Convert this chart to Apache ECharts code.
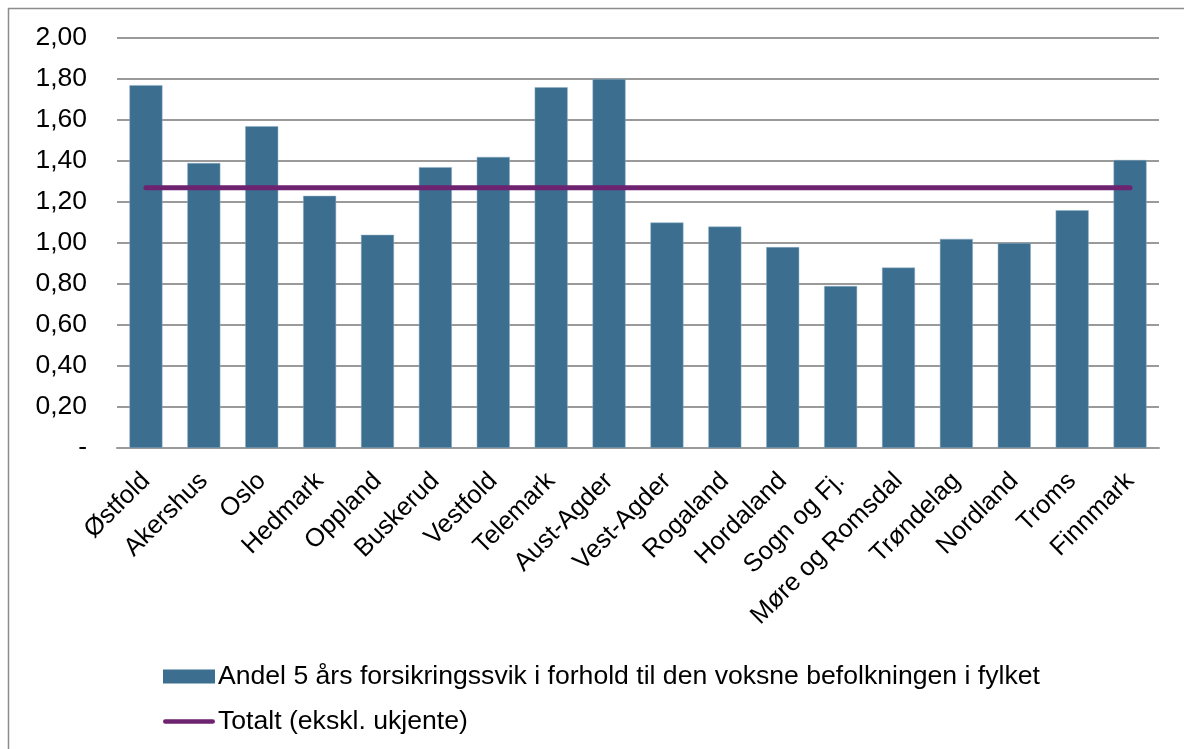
<!DOCTYPE html>
<html>
<head>
<meta charset="utf-8">
<script src="https://cdn.jsdelivr.net/npm/echarts@6/dist/echarts.min.js"></script>
<style>
  html, body { margin: 0; padding: 0; background: #fff; }
  #chart { width: 1184px; height: 749px; }
</style>
</head>
<body>
<div id="chart"></div>
<script>
// fylker
const categories = ['Østfold', 'Akershus', 'Oslo', 'Hedmark', 'Oppland', 'Buskerud', 'Vestfold',
  'Telemark', 'Aust-Agder', 'Vest-Agder', 'Rogaland', 'Hordaland', 'Sogn og Fj.',
  'Møre og Romsdal', 'Trøndelag', 'Nordland', 'Troms', 'Finnmark']

// andel per fylke
const andelValues = [1.77, 1.39, 1.57, 1.23, 1.04, 1.37, 1.42, 1.76, 1.80, 1.10, 1.08, 0.98,
  0.79, 0.88, 1.02, 1.00, 1.16, 1.405]

// totalt (ekskl. ukjente)
const totalValues = [1.27, 1.27, 1.27, 1.27, 1.27, 1.27, 1.27, 1.27, 1.27, 1.27, 1.27, 1.27,
  1.27, 1.27, 1.27, 1.27, 1.27, 1.27]

const barName = 'Andel 5 års forsikringssvik i forhold til den voksne befolkningen i fylket'
const lineName = 'Totalt (ekskl. ukjente)'

const font = '"Liberation Sans", Arial, sans-serif'

const myChart = echarts.init(document.getElementById('chart'))

const option = {
  backgroundColor: '#fff',
  animation: false,
  textStyle: { fontFamily: font },

  // ramme rundt figuren
  graphic: [{
    type: 'rect',
    silent: true,
    shape: { x: 8.5, y: 8.5, width: 1250, height: 800 },
    style: { fill: 'none', stroke: '#8c8c8c', lineWidth: 1.5 }
  }],

  grid: {
    left: 117,
    right: 25,
    top: 38,
    bottom: 301
  },

  legend: {
    orient: 'vertical',
    left: 158,
    top: 658,
    itemWidth: 52,
    itemHeight: 14,
    itemGap: 18,
    itemStyle: { borderWidth: 0 },
    textStyle: { fontSize: 26.6, color: '#000', fontFamily: font, padding: [0, 0, 0, -2] },
    data: [
      { name: barName, icon: 'rect' },
      // tykk strek med runde ender
      { name: lineName, icon: 'path://M2.5,0 H53.5 A2.5,2.5 0 0 1 53.5,5 H2.5 A2.5,2.5 0 0 1 2.5,0 Z' }
    ]
  },

  xAxis: {
    type: 'category',
    data: categories,
    axisLine: { lineStyle: { color: '#9a9a9a', width: 2 } },
    axisTick: { show: false },
    axisLabel: {
      rotate: 45,
      interval: 0,
      margin: 29,
      fontSize: 25.5,
      color: '#000',
      fontFamily: font
    }
  },

  yAxis: {
    type: 'value',
    min: 0,
    max: 2,
    interval: 0.2,
    axisLine: { show: false },
    axisTick: { show: false },
    splitLine: { lineStyle: { color: '#9a9a9a', width: 2 } },
    axisLabel: {
      margin: 30,
      fontSize: 26.5,
      color: '#000',
      fontFamily: font,
      formatter: (v) => v === 0 ? '-' : v.toFixed(2).replace('.', ',')
    }
  },

  series: [
    {
      name: barName,
      type: 'bar',
      data: andelValues,
      barWidth: '57%',
      itemStyle: { color: '#3c6e8f', borderColor: '#8fb0c6', borderWidth: 0.5 }
    },
    {
      name: lineName,
      type: 'line',
      data: totalValues,
      symbol: 'none',
      lineStyle: { color: '#6e2370', width: 5, cap: 'round' },
      itemStyle: { color: '#6e2370' }
    }
  ]
}

myChart.setOption(option)
</script>
</body>
</html>
